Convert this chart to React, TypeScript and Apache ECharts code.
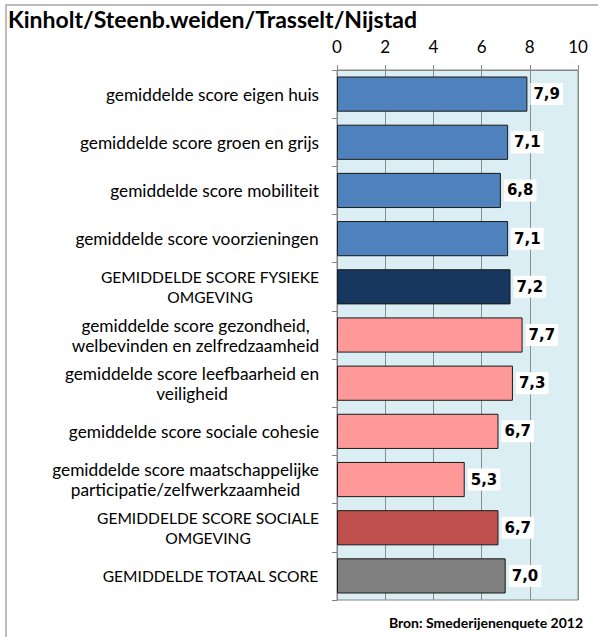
import React, { useEffect, useRef } from "react";
import * as echarts from "echarts";

const categories: string[][] = [
  ["gemiddelde score eigen huis"],
  ["gemiddelde score groen en grijs"],
  ["gemiddelde score mobiliteit"],
  ["gemiddelde score voorzieningen"],
  ["GEMIDDELDE SCORE FYSIEKE", "OMGEVING"],
  ["gemiddelde score gezondheid,", "welbevinden en zelfredzaamheid"],
  ["gemiddelde score leefbaarheid en", "veiligheid"],
  ["gemiddelde score sociale cohesie"],
  ["gemiddelde score maatschappelijke", "participatie/zelfwerkzaamheid"],
  ["GEMIDDELDE SCORE SOCIALE", "OMGEVING"],
  ["GEMIDDELDE TOTAAL SCORE"],
];
const values: number[] = [7.9, 7.1, 6.8, 7.1, 7.2, 7.7, 7.3, 6.7, 5.3, 6.7, 7.0];
const colors: string[] = [
  "#4F81BD", "#4F81BD", "#4F81BD", "#4F81BD", "#17375E",
  "#FF9999", "#FF9999", "#FF9999", "#FF9999", "#C0504D", "#808080",
];
const title = "Kinholt/Steenb.weiden/Trasselt/Nijstad";
const source = "Bron: Smederijenenquete 2012";

export default function App() {
  const ref = useRef<HTMLDivElement>(null);
  useEffect(() => {
    document.body.style.margin = "0";
    const chart = echarts.init(ref.current!, null, { renderer: "svg" });
    const ctx = document.createElement("canvas").getContext("2d")!;
    const isUpper = (lines: string[]) => lines[0] === lines[0].toUpperCase();
    const catData = categories.map((lines) => {
      const fs = isUpper(lines) ? 15.6 : 17.3;
      ctx.font = `${fs}px Lato`;
      const w = Math.max(...lines.map((l) => ctx.measureText(l).width));
      return {
        value: lines.join("\n"),
        textStyle: {
          fontSize: fs,
          align: "center",
          padding: [0, Math.round(w), 0, 0],
        },
      };
    });
    chart.setOption({
      animation: false,
      backgroundColor: "#ffffff",
      graphic: [
        {
          type: "rect",
          shape: { x: 6, y: 5, width: 800, height: 800 },
          style: { fill: "none", stroke: "#A6A6A6", lineWidth: 1.5 },
          silent: true,
        },
        {
          type: "text",
          left: 8,
          top: 7,
          style: {
            text: title,
            font: "bold 23px Lato",
            fill: "#000",
          },
        },
        {
          type: "text",
          right: 15,
          top: 615,
          style: {
            text: source,
            font: "bold 14px Lato",
            fill: "#000",
          },
        },
      ],
      grid: {
        left: 337,
        right: 20,
        top: 70,
        bottom: 37,
        show: true,
        backgroundColor: "#DBEEF4",
        borderColor: "#868686",
        borderWidth: 1,
      },
      xAxis: {
        type: "value",
        position: "top",
        min: 0,
        max: 10,
        interval: 2,
        axisLine: { show: true, lineStyle: { color: "#868686" } },
        axisTick: { show: true, length: 5, lineStyle: { color: "#868686" } },
        axisLabel: {
          margin: 15,
          fontFamily: "Lato",
          fontSize: 17,
          color: "#000",
        },
        splitLine: { show: true, lineStyle: { color: "#8C8C8C", width: 1 } },
      },
      yAxis: {
        type: "category",
        inverse: true,
        data: catData,
        axisLine: { show: true, lineStyle: { color: "#868686" } },
        axisTick: { show: true, length: 5, lineStyle: { color: "#868686" } },
        axisLabel: {
          margin: 18,
          align: "center",
          fontFamily: "Lato",
          fontSize: 17.3,
          color: "#000",
          lineHeight: 20,
        },
      },
      series: [
        {
          type: "bar",
          data: values.map((v, i) => ({
            value: v,
            itemStyle: { color: colors[i] },
          })),
          barCategoryGap: "27%",
          itemStyle: { borderColor: "#1a1a1a", borderWidth: 1 },
          label: {
            show: true,
            position: "right",
            distance: 3,
            formatter: (p: any) => p.value.toFixed(1).replace(".", ","),
            fontFamily: "DejaVu Sans",
            fontWeight: "bold",
            fontSize: 15,
            color: "#000",
            backgroundColor: "#fff",
            padding: [4, 3, 3, 3],
          },
        },
      ],
    });
    return () => chart.dispose();
  }, []);
  return <div ref={ref} style={{ width: 598, height: 637 }} />;
}
